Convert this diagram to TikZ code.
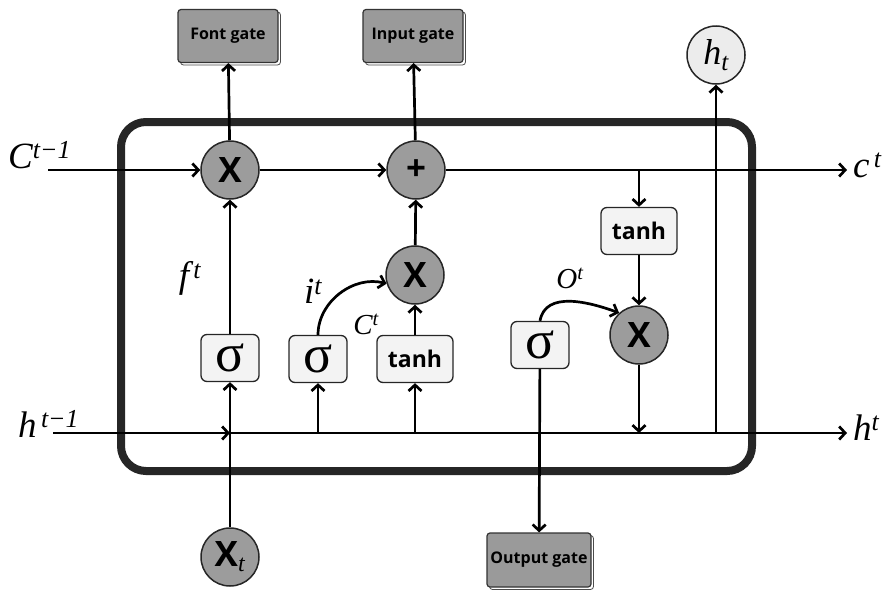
\documentclass[tikz,border=0pt]{standalone}
\usepackage{fontspec}
\setmainfont{Open Sans}
\newfontfamily\grk{Liberation Serif}
\newfontfamily\lbl{Liberation Serif}
\usetikzlibrary{arrows.meta,shadows}
\definecolor{gatefill}{HTML}{9A9A9A}
\definecolor{opfill}{HTML}{9C9C9C}
\definecolor{boxfill}{HTML}{F3F3F3}
\definecolor{htfill}{HTML}{ECECEC}
\definecolor{frame}{HTML}{262626}
\newcommand{\lsup}[2]{{\lbl\itshape #1\textsuperscript{#2}}}
\begin{document}
\begin{tikzpicture}[x=1pt,y=-1pt,
  conn/.style={line width=2.7pt,draw=black},
  arr/.style={conn,-{Straight Barb[length=6pt,width=13pt,line width=2.7pt]}},
  gatebox/.style={draw=black!80,line width=1.2pt,fill=gatefill,rounded corners=3pt,
    minimum width=100pt,minimum height=53pt,inner sep=0pt,
    font=\bfseries\fontsize{16}{16}\selectfont,
    copy shadow={shadow xshift=2.5pt,shadow yshift=-2.5pt,fill=white,draw=black!70,line width=0.8pt}},
  opcirc/.style={circle,draw=black!85,line width=1.5pt,fill=opfill,minimum size=58pt,inner sep=0pt,
    font=\bfseries\fontsize{35}{35}\selectfont},
  smallbox/.style={draw=black!85,line width=1.3pt,fill=boxfill,rounded corners=6pt,inner sep=0pt,
    minimum height=47pt},
  sigbox/.style={smallbox,minimum width=58pt,font=\grk\fontsize{54}{54}\selectfont},
  tanhbox/.style={smallbox,minimum width=76pt,font=\bfseries\fontsize{23}{23}\selectfont},
  biglbl/.style={inner sep=0pt,font=\fontsize{37}{37}\selectfont},
  midlbl/.style={inner sep=0pt,font=\fontsize{29}{29}\selectfont}
]
\useasboundingbox (0,0) rectangle (893,589);

% main cell frame
\draw[frame,line width=8pt,rounded corners=25pt] (121,122) rectangle (752,471);

% gate boxes
\node[gatebox] (fg) at (228,36) {Font gate};
\node[gatebox] (ig) at (413,36) {Input gate};
\node[gatebox,minimum width=104pt,minimum height=54pt] (og) at (539,560) {Output gate};

% operator circles
\node[opcirc] (x1) at (230,170) {X};
\node[opcirc] (pl) at (416,170) {+};
\node[opcirc] (x2) at (415,275) {X};
\node[opcirc] (x3) at (639,335) {X};
\node[opcirc] (xt) at (230,557) {X\textsubscript{\lbl\mdseries\itshape\fontsize{24}{24}\selectfont t}};
\node[circle,draw=black!85,line width=1.5pt,fill=htfill,minimum size=58pt,inner sep=0pt,
  font=\fontsize{36}{36}\selectfont] (ht) at (716,55) {{\lbl\itshape h\textsubscript{t}}};

% small boxes
\node[sigbox] (s1) at (230,358) {σ};
\node[sigbox] (s2) at (318,359) {σ};
\node[tanhbox] (t2) at (415,359) {tanh};
\node[sigbox] (s3) at (540,345) {σ};
\node[tanhbox] (t3) at (639,231) {tanh};

% coordinates
\coordinate (cin) at (48,170);
\coordinate (cout) at (847,170);
\coordinate (hin) at (53,433);
\coordinate (hout) at (847,433);
\coordinate (j1) at (230,433);
\coordinate (j2) at (318,433);
\coordinate (j3) at (415,433);
\coordinate (j4) at (639,433);
\coordinate (j5) at (716,433);
\coordinate (jc) at (639,170);

% cell state line
\draw[arr] (cin) -- (x1);
\draw[arr] (x1) -- (pl);
\draw[arr] (pl) -- (cout);
\draw[arr] (x1) -- (fg);
\draw[arr] (pl) -- (ig);

% hidden line
\draw[arr] (hin) -- (j1);
\draw[arr] (j1) -- (hout);

% forget path
\draw[arr] (xt) -- (s1);
\draw[arr] (s1) -- (x1);

% input path
\draw[arr] (j2) -- (s2);
\draw[arr] (j3) -- (t2);
\draw[arr] (t2) -- (x2);
\draw[arr] (x2) -- (pl);
\draw[arr] (s2.north) to[out=90,in=165] (x2.197);

% output path
\draw[arr] (jc) -- (t3);
\draw[arr] (t3) -- (x3);
\draw[arr] (x3) -- (j4);
\draw[arr] (s3.north) to[out=80,in=160] (x3.132);
\draw[arr] (s3) -- (og);
\draw[arr] (j5) -- (ht);

% labels
\node[biglbl,anchor=base west] (lc) at (8,168) {\lsup{C}{t−1}};
\node[biglbl,anchor=base west] (lh) at (18,437) {\lsup{h}{\,t−1}};
\node[biglbl,anchor=base west] (lct) at (853,177) {\lsup{c}{\,t}};
\node[biglbl,anchor=base west] (lht) at (853,440) {\lsup{h}{t}};
\node[biglbl] (lf) at (190,278) {\lsup{f}{\,t}};
\node[biglbl] (li) at (313,291) {\lsup{i}{t}};
\node[midlbl] (lC) at (366,324) {\lsup{C}{t}};
\node[midlbl] (lO) at (570,278) {\lsup{O}{t}};
\end{tikzpicture}
\end{document}
